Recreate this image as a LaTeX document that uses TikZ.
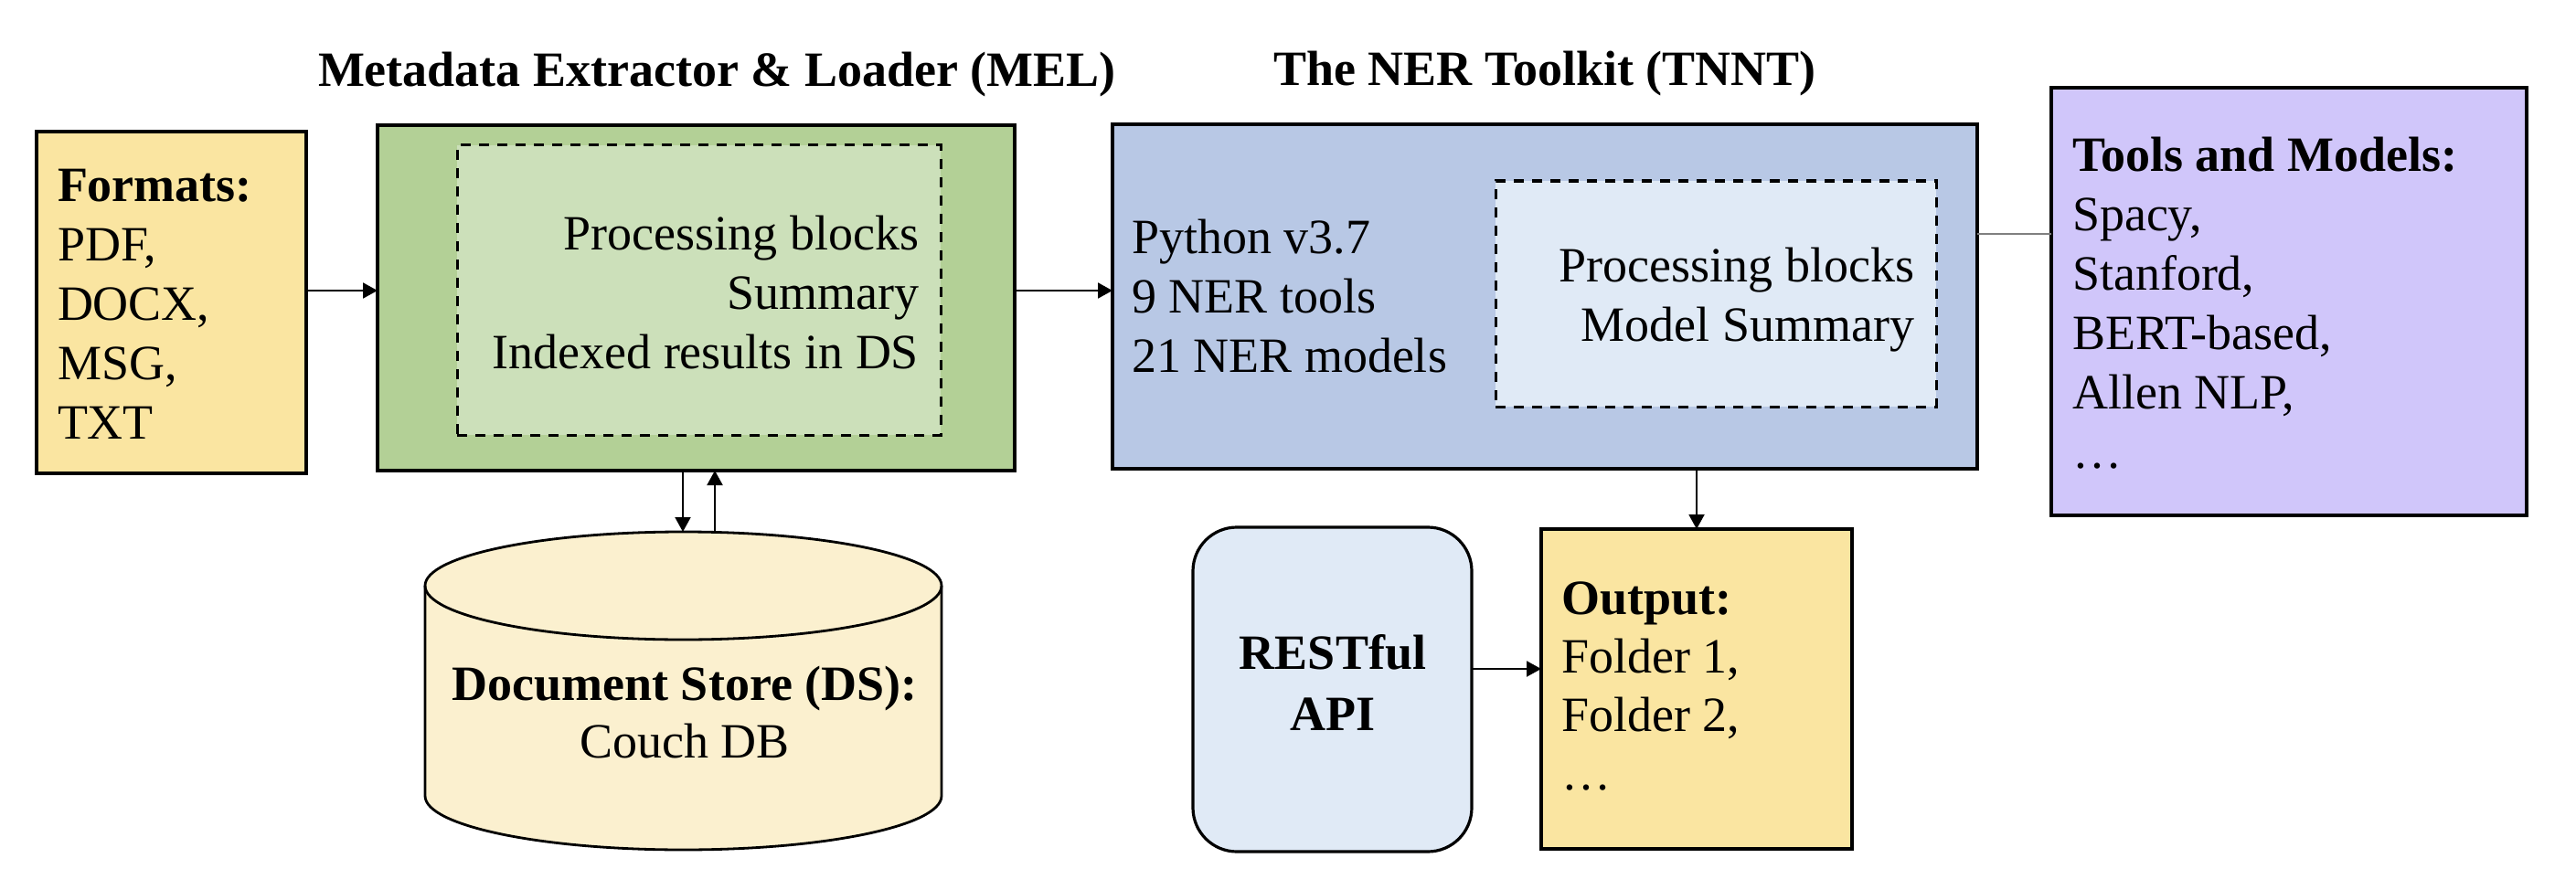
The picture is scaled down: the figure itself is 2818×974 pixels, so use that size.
\documentclass[tikz,border=0pt]{standalone}
\usepackage{fontspec}
\setmainfont{Liberation Serif}
\usetikzlibrary{arrows.meta}
\definecolor{fmtfill}{HTML}{FAE5A1}
\definecolor{melfill}{HTML}{B3D096}
\definecolor{melin}{HTML}{CCE0BA}
\definecolor{tnntfill}{HTML}{B8C8E5}
\definecolor{tnntin}{HTML}{E0EAF6}
\definecolor{toolfill}{HTML}{D0C6FA}
\definecolor{cylfill}{HTML}{FBF0CF}
\definecolor{restfill}{HTML}{E0EAF6}
\definecolor{outfill}{HTML}{FAE5A1}
\definecolor{linkgray}{HTML}{808080}
\tikzset{
  box/.style={draw=black, line width=1.6pt, inner sep=0pt, outer sep=0pt},
  dbox/.style={draw=black, line width=1.5pt, dash pattern=on 5.5pt off 4.5pt, inner sep=0pt, outer sep=0pt},
  txt/.style={inner sep=0pt, outer sep=0pt, font=\fontsize{27}{32.5}\selectfont},
  titletxt/.style={inner sep=0pt, outer sep=0pt, font=\fontsize{27}{32.5}\selectfont\bfseries},
  arr/.style={line width=1pt, -{Triangle[length=8pt,width=8.5pt]}},
  graylink/.style={line width=1pt, draw=linkgray}
}
\begin{document}
\begin{tikzpicture}[x=0.5pt, y=-0.5pt]
\useasboundingbox (0,0) rectangle (2818,974);

% titles
\node[titletxt, anchor=base west] (t1) at (348,95) {Metadata Extractor \& Loader (MEL)};
\node[titletxt, anchor=base west] (t2) at (1393,94) {The NER Toolkit (TNNT)};

% formats
\node[box, fill=fmtfill, minimum width=147.5pt, minimum height=187pt] (fmt) at (187.5,331) {};
\node[txt, anchor=north west, align=left] (fmtx) at (63,174.5)
  {\strut\textbf{Formats:}\\\strut PDF,\\\strut DOCX,\\\strut MSG,\\\strut TXT};

% MEL
\node[box, fill=melfill, minimum width=348.5pt, minimum height=189pt] (mel) at (761.5,326) {};
\node[dbox, fill=melin, minimum width=264.5pt, minimum height=158.5pt] (melin) at (764.5,317.5) {};
\node[txt, anchor=north east, align=right] (melx) at (1005,227.5)
  {\strut Processing blocks\\\strut Summary\\\strut Indexed results in DS};

% TNNT
\node[box, fill=tnntfill, minimum width=473pt, minimum height=188.5pt] (tnnt) at (1690,324.5) {};
\node[dbox, fill=tnntin, minimum width=241pt, minimum height=123.5pt] (tnntin) at (1877,321.5) {};
\node[txt, anchor=north west, align=left] (tnntx) at (1238,232)
  {\strut Python v3.7\\\strut 9 NER tools\\\strut 21 NER models};
\node[txt, anchor=north east, align=right] (tnntinx) at (2094,262.5)
  {\strut Processing blocks\\\strut Model Summary};

% tools
\node[box, fill=toolfill, minimum width=260pt, minimum height=234pt] (tools) at (2504,330) {};
\node[txt, anchor=north west, align=left] (toolsx) at (2267,141.5)
  {\strut\textbf{Tools and Models:}\\\strut Spacy,\\\strut Stanford,\\\strut BERT-based,\\\strut Allen NLP,\\\strut …};

% document store cylinder
\node[inner sep=0pt, outer sep=0pt, minimum width=282.5pt, minimum height=174pt] (ds) at (747.5,756) {};
\draw[line width=1.4pt, fill=cylfill] (465,641) -- (465,871)
  arc[start angle=180, end angle=360, x radius=141.25pt, y radius=29.5pt] -- (1030,641)
  arc[start angle=0, end angle=180, x radius=141.25pt, y radius=29.5pt] -- cycle;
\draw[line width=1.4pt] (465,641) arc[start angle=180, end angle=360, x radius=141.25pt, y radius=29.5pt];
\node[txt, anchor=north, align=center, font=\fontsize{27}{31.5}\selectfont] (dsx) at (749,722)
  {\strut\textbf{Document Store (DS):}\\\strut Couch DB};

% RESTful API
\node[box, fill=restfill, rounded corners=24pt, minimum width=152.5pt, minimum height=177.5pt] (rest) at (1457.5,754.5) {};
\node[txt, anchor=north, align=center, font=\fontsize{27}{33.5}\selectfont\bfseries] (restx) at (1458,686)
  {\strut RESTful\\\strut API};

% output
\node[box, fill=outfill, minimum width=170pt, minimum height=175pt] (out) at (1856,754) {};
\node[txt, anchor=north west, align=left, font=\fontsize{27}{32}\selectfont] (outx) at (1708,628)
  {\strut\textbf{Output:}\\\strut Folder 1,\\\strut Folder 2,\\\strut …};

% connectors
\coordinate (a1) at ([yshift=6.5pt]fmt.east);
\draw[arr] (a1) -- (a1 -| mel.west);
\coordinate (a2) at ([yshift=4pt]mel.east);
\draw[arr] (a2) -- (a2 -| tnnt.west);
\coordinate (a3) at ([yshift=34.25pt]tnnt.east);
\draw[graylink] (a3) -- (a3 -| tools.west);
\coordinate (m1) at ([xshift=-7.25pt]mel.south);
\draw[arr] (m1) -- (m1 |- ds.north);
\coordinate (m2) at ([xshift=10.25pt]mel.south);
\draw[arr] (m2 |- ds.north) -- (m2);
\draw[arr] (tnnt.south -| out.north) -- (out.north);
\coordinate (a4) at ([yshift=11.25pt]rest.east);
\draw[arr] (a4) -- (a4 -| out.west);
\end{tikzpicture}
\end{document}
